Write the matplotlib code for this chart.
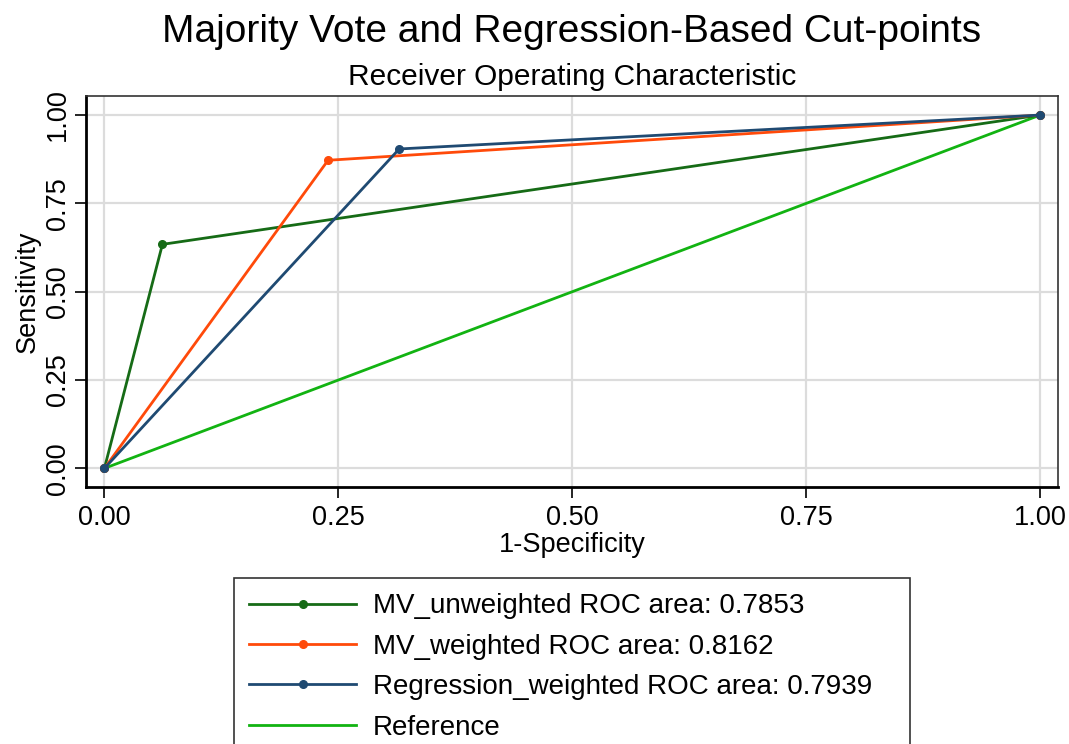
import matplotlib
matplotlib.use('Agg')
import matplotlib.pyplot as plt

plt.rcParams['font.family'] = ['Liberation Sans', 'DejaVu Sans']

# ROC points
mv_unw_x = [0.0, 0.062, 1.0]
mv_unw_y = [0.0, 0.634, 1.0]
mv_w_x = [0.0, 0.239, 1.0]
mv_w_y = [0.0, 0.872, 1.0]
reg_w_x = [0.0, 0.315, 1.0]
reg_w_y = [0.0, 0.904, 1.0]
ref_x = [0.0, 1.0]
ref_y = [0.0, 1.0]

labels = ['MV_unweighted ROC area: 0.7853',
          'MV_weighted ROC area: 0.8162',
          'Regression_weighted ROC area: 0.7939',
          'Reference']
colors = ['#166b16', '#ff4a0a', '#1f4a72', '#12b312']
ticks = [0.0, 0.25, 0.5, 0.75, 1.0]
tick_labels = ['0.00', '0.25', '0.50', '0.75', '1.00']

fig = plt.figure(figsize=(10.69, 7.44), dpi=100)
ax = fig.add_axes([0.0805, 0.3458, 0.9092, 0.5252])

ax.plot(mv_unw_x, mv_unw_y, color=colors[0], lw=2.0, marker='o', ms=5.5, label=labels[0], zorder=3)
ax.plot(mv_w_x, mv_w_y, color=colors[1], lw=2.0, marker='o', ms=5.5, label=labels[1], zorder=3)
ax.plot(reg_w_x, reg_w_y, color=colors[2], lw=2.0, marker='o', ms=5.5, label=labels[2], zorder=3)
ax.plot(ref_x, ref_y, color=colors[3], lw=2.0, label=labels[3], zorder=2)

ax.set_xlim(-0.0196, 1.019)
ax.set_ylim(-0.052, 1.054)
ax.set_xticks(ticks)
ax.set_xticklabels(tick_labels)
ax.set_yticks(ticks)
ax.set_yticklabels(tick_labels, rotation=90, va='center')
ax.tick_params(labelsize=19.5, length=8, width=1.2, direction='out', top=False, right=False)
ax.tick_params(axis='x', pad=5)
ax.tick_params(axis='y', pad=3)
ax.grid(True, color='#dcdcdc', lw=1.6)
ax.set_axisbelow(True)

for s in ['left', 'bottom']:
    ax.spines[s].set_linewidth(2.0)
    ax.spines[s].set_color('black')
for s in ['top', 'right']:
    ax.spines[s].set_linewidth(1.2)
    ax.spines[s].set_color('#333333')

ax.set_xlabel('1-Specificity', fontsize=19.5, labelpad=1)
ax.set_ylabel('Sensitivity', fontsize=19.5, labelpad=3)

fig.text(0.535, 1 - 42 / 744, 'Majority Vote and Regression-Based Cut-points', fontsize=28,
         ha='center', va='baseline')
fig.text(0.535, 1 - 85 / 744, 'Receiver Operating Characteristic', fontsize=21.5,
         ha='center', va='baseline')

leg = fig.legend(loc='upper left', mode='expand',
                 bbox_to_anchor=(234 / 1069, 0, 676 / 1069, 1 - 578 / 744),
                 fontsize=20, frameon=True, fancybox=False, edgecolor='black',
                 handlelength=3.85, handletextpad=0.6, labelspacing=0.52,
                 borderpad=0.55, borderaxespad=0)
leg.get_frame().set_linewidth(1.2)

fig.savefig('out.png', dpi=100)
